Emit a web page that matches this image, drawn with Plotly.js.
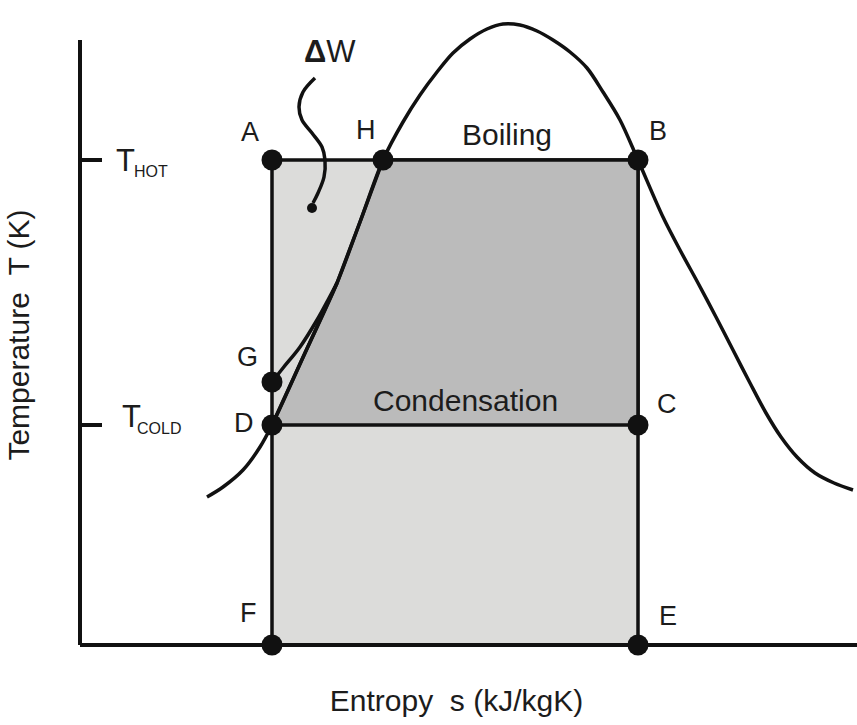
<!DOCTYPE html>
<html><head><meta charset="utf-8">
<script src="https://cdn.plot.ly/plotly-3.0.1.min.js"></script>
<style>html,body{margin:0;padding:0;background:#fff}#chart{width:857px;height:725px}</style>
</head><body><div id="chart"></div>
<script>
// ---- data (arbitrary schematic units) ----
const T_HOT = 4.85, T_COLD = 2.20;
const tempTickVals = [T_HOT, T_COLD];
const tempTickSub = ['HOT', 'COLD'];

const stateLabels = ['A', 'H', 'B', 'G', 'D', 'C', 'F', 'E'];
const stateS = [1.92, 3.03, 5.58, 1.92, 1.92, 5.58, 1.92, 5.58];
const stateT = [4.85, 4.85, 4.85, 2.63, 2.20, 2.20, 0, 0];

// saturation dome (liquid line -> top -> vapour line)
const satS = [1.27, 1.43, 1.63, 1.80, 1.92, 2.25, 2.57, 2.80, 3.03, 3.23, 3.40, 3.57, 3.73, 3.90, 4.07, 4.23, 4.40, 4.57, 4.73, 4.90, 5.07, 5.23, 5.40, 5.58, 5.83, 6.00, 6.18, 6.36, 6.53, 6.70, 6.86, 7.01, 7.17, 7.35, 7.54, 7.73];
const satT = [1.48, 1.58, 1.75, 1.98, 2.20, 2.92, 3.62, 4.23, 4.85, 5.23, 5.50, 5.73, 5.92, 6.06, 6.16, 6.21, 6.20, 6.14, 6.05, 5.93, 5.77, 5.53, 5.25, 4.85, 4.28, 3.95, 3.62, 3.28, 2.95, 2.62, 2.32, 2.08, 1.88, 1.72, 1.62, 1.55];

// G -> merge curve
const gCurveS = [1.92, 2.03, 2.20, 2.37, 2.48, 2.57];
const gCurveT = [2.63, 2.77, 2.98, 3.25, 3.45, 3.62];

// ΔW leader squiggle
const dwS = [2.35, 2.23, 2.19, 2.22, 2.32, 2.42, 2.45, 2.44, 2.38, 2.33];
const dwT = [5.67, 5.53, 5.38, 5.25, 5.12, 4.98, 4.85, 4.68, 4.52, 4.42];
const dwEndS = [2.32], dwEndT = [4.37];

const S_AXIS_MAX = 7.77, T_AXIS_MAX = 6.05;

// ---- build ----
const pt = l => stateLabels.indexOf(l);
const P = l => [stateS[pt(l)], stateT[pt(l)]];
const iD = satS.indexOf(stateS[pt('D')]);
const iH = satS.indexOf(stateS[pt('H')]);

const LIGHT = '#dcdcda', DARK = '#bbbbbb', INK = '#111111', TXT = '#1c1c1c';
const FONT = 'Liberation Sans, Arial, Helvetica, sans-serif';

const rect = ['A', 'B', 'E', 'F', 'A'].map(P);
const darkS = satS.slice(iD, iH + 1).concat([P('B')[0], P('C')[0], P('D')[0]]);
const darkT = satT.slice(iD, iH + 1).concat([P('B')[1], P('C')[1], P('D')[1]]);

const LW = 3.5;
const traces = [
  {x: rect.map(p => p[0]), y: rect.map(p => p[1]), mode: 'lines', fill: 'toself', fillcolor: LIGHT,
   line: {color: INK, width: LW}, hoverinfo: 'skip'},
  {x: darkS, y: darkT, mode: 'lines', fill: 'toself', fillcolor: DARK,
   line: {color: INK, width: LW}, hoverinfo: 'skip'},
  {x: satS, y: satT, mode: 'lines', line: {color: INK, width: LW, shape: 'spline', smoothing: 0.9}, hoverinfo: 'skip'},
  {x: gCurveS, y: gCurveT, mode: 'lines', line: {color: INK, width: LW, shape: 'spline'}, hoverinfo: 'skip'},
  {x: dwS, y: dwT, mode: 'lines', line: {color: INK, width: LW, shape: 'spline'}, hoverinfo: 'skip'},
  {x: dwEndS, y: dwEndT, mode: 'markers', marker: {color: INK, size: 10}, cliponaxis: false, hoverinfo: 'skip'},
  {x: stateS, y: stateT, mode: 'markers', marker: {color: INK, size: 21}, cliponaxis: false, hoverinfo: 'skip'}
];

const labelShift = {A: [-22, 28], H: [-17, 30], B: [20, 29], G: [-25, 25], D: [-28, 2], C: [29, 21], F: [-24, 32], E: [30, 29]};
const annotations = stateLabels.map((l, i) => ({
  x: stateS[i], y: stateT[i], xref: 'x', yref: 'y', text: l, showarrow: false,
  xshift: labelShift[l][0], yshift: labelShift[l][1], font: {family: FONT, size: 27, color: TXT}
}));
annotations.push(
  {x: (stateS[pt('H')] + stateS[pt('B')]) / 2, y: T_HOT, xref: 'x', yref: 'y', text: 'Boiling', showarrow: false,
   xshift: -4, yshift: 26, font: {family: FONT, size: 30, color: TXT}},
  {x: (stateS[pt('D')] + stateS[pt('C')]) / 2, y: T_COLD, xref: 'x', yref: 'y', text: 'Condensation', showarrow: false,
   xshift: 10, yshift: 25, font: {family: FONT, size: 30, color: TXT}},
  {x: dwS[0], y: dwT[0], xref: 'x', yref: 'y', text: '<b>Δ</b>W', showarrow: false,
   xshift: 15, yshift: 27, font: {family: FONT, size: 31, color: TXT}}
);
const tickTShift = [[45, 0], [51, 9]], tickSubShift = [[71, -11], [79, -3]];
tempTickVals.forEach((v, i) => {
  annotations.push({x: 0, y: v, xref: 'x', yref: 'y', text: 'T', showarrow: false,
    xshift: tickTShift[i][0], yshift: tickTShift[i][1], font: {family: FONT, size: 31, color: TXT}});
  annotations.push({x: 0, y: v, xref: 'x', yref: 'y', text: tempTickSub[i], showarrow: false,
    xshift: tickSubShift[i][0], yshift: tickSubShift[i][1], font: {family: FONT, size: 16, color: TXT}});
});

const shapes = [
  {type: 'line', xref: 'x', yref: 'y', x0: 0, y0: 0, x1: 0, y1: T_AXIS_MAX, line: {color: INK, width: 4}},
  {type: 'line', xref: 'x', yref: 'y', x0: 0, y0: 0, x1: S_AXIS_MAX, y1: 0, line: {color: INK, width: 4}}
].concat(tempTickVals.map(v => ({type: 'line', xref: 'x', yref: 'y', x0: 0, y0: v, x1: 0.22, y1: v,
  line: {color: INK, width: 4}})));

const layout = {
  width: 857, height: 725, showlegend: false,
  paper_bgcolor: '#ffffff', plot_bgcolor: '#ffffff',
  margin: {l: 56, r: 0, t: 0, b: 55},
  xaxis: {range: [-0.24, 7.77], showgrid: false, zeroline: false, showline: false, showticklabels: false, ticks: '',
          title: {text: 'Entropy\u00a0\u00a0s (kJ/kgK)', font: {family: FONT, size: 30, color: TXT}, standoff: 19}},
  yaxis: {range: [-0.25, 6.45], showgrid: false, zeroline: false, showline: false, showticklabels: false, ticks: '',
          title: {text: 'Temperature\u00a0\u00a0T (K)', font: {family: FONT, size: 30, color: TXT}, standoff: 16}},
  shapes: shapes,
  annotations: annotations
};

Plotly.newPlot('chart', traces, layout, {staticPlot: true, displayModeBar: false});
</script></body></html>
